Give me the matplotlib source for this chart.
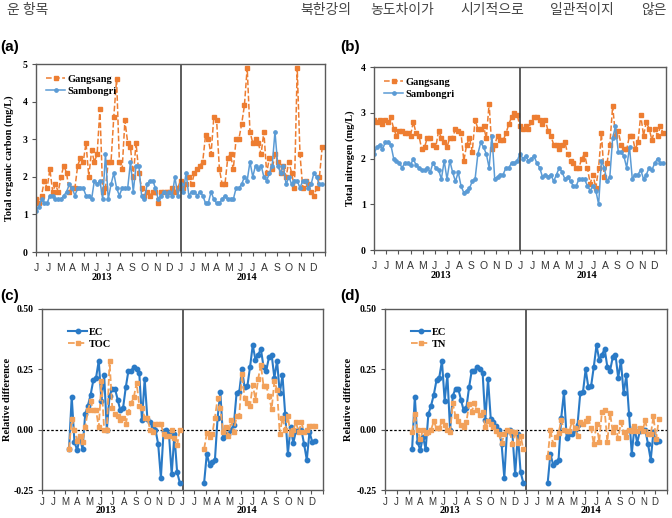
import numpy as np
import matplotlib.pyplot as plt

# weekly samples, week 0 = first week of January
toc_gang_13 = [1.4, 1.3, 1.5, 1.9, 1.7, 2.2, 1.6, 1.8, 1.6, 2.0, 2.3, 2.1, 1.6, 1.7, 1.7, 2.3, 2.5, 2.4,
               2.9, 2.0, 2.7, 2.4, 2.6, 3.8, 1.6, 1.7, 2.4, 2.4, 3.6, 4.6, 2.4, 2.2, 3.5, 2.9, 2.8, 2.0,
               2.9, 2.1, 1.7, 1.5, 1.6, 1.5, 1.6, 1.6, 1.3, 1.6, 1.6, 1.6, 1.6, 1.7, 1.6, 1.7]
toc_samb_13 = [1.1, 1.2, 1.4, 1.3, 1.3, 1.5, 1.5, 1.4, 1.4, 1.4, 1.5, 1.6, 1.8, 1.7, 1.5, 1.7, 1.7, 1.7,
               1.5, 1.5, 1.4, 1.9, 1.8, 1.9, 1.4, 2.6, 1.4, 1.8, 2.1, 1.7, 1.5, 1.7, 1.7, 1.7, 2.4, 1.6,
               2.3, 2.3, 1.5, 1.4, 1.8, 1.9, 1.9, 1.7, 1.4, 1.5, 1.6, 1.5, 1.6, 1.5, 2.0, 1.5]
toc_gang_14 = [1.9, 1.7, 1.8, 2.0, 1.8, 2.1, 2.2, 2.3, 2.4, 3.1, 3.0, 2.6, 3.6, 3.5, 2.2, 1.8, 1.8, 2.5,
               2.6, 2.2, 3.0, 3.0, 3.4, 3.9, 4.9, 3.2, 2.9, 3.0, 2.9, 2.6, 3.2, 2.1, 2.5, 2.2, 2.6, 2.4,
               2.1, 2.3, 2.0, 2.4, 2.1, 1.7, 4.9, 2.6, 1.7, 1.9, 1.8, 1.6, 1.5, 1.7, 2.0, 2.8]
toc_samb_14 = [1.8, 1.6, 2.1, 1.5, 1.6, 1.6, 1.5, 1.6, 1.5, 1.3, 1.3, 1.6, 1.4, 1.3, 1.3, 1.4, 1.5, 1.4,
               1.4, 1.4, 1.7, 1.7, 1.8, 2.0, 1.9, 2.4, 2.0, 2.3, 2.2, 2.3, 2.0, 1.9, 2.1, 2.3, 3.2, 2.3,
               2.1, 2.3, 1.8, 2.0, 1.8, 1.9, 1.9, 1.7, 1.9, 1.9, 1.7, 1.8, 2.1, 2.0, 1.8, 1.8]

tn_gang_13 = [2.85, 2.8, 2.85, 2.75, 2.85, 2.8, 2.9, 2.65, 2.5, 2.6, 2.6, 2.55, 2.55, 2.5, 2.8, 2.55, 2.5,
              2.2, 2.25, 2.45, 2.45, 2.3, 2.25, 2.6, 2.45, 2.35, 2.25, 2.45, 2.45, 2.65, 2.6, 2.55, 1.95,
              2.3, 2.45, 2.15, 2.85, 2.65, 2.65, 2.7, 2.45, 3.2, 2.2, 2.3, 2.5, 2.4, 2.4, 2.55, 2.75,
              2.9, 3.0, 2.95]
tn_samb_13 = [2.1, 2.25, 2.3, 2.2, 2.35, 2.35, 2.3, 2.0, 1.95, 1.9, 1.8, 1.9, 1.9, 1.85, 2.0, 1.85, 1.8,
              1.75, 1.75, 1.8, 1.7, 1.9, 1.8, 1.75, 1.55, 1.95, 1.55, 1.95, 1.7, 1.5, 1.7, 1.4, 1.25, 1.3,
              1.35, 1.5, 1.55, 2.1, 2.35, 2.25, 2.1, 1.8, 2.5, 1.55, 1.6, 1.65, 1.65, 1.8, 1.8, 1.9, 1.9,
              1.95]
tn_gang_14 = [2.7, 2.65, 2.7, 2.65, 2.8, 2.9, 2.9, 2.85, 2.75, 2.85, 2.6, 2.5, 2.3, 2.3, 2.2, 2.3, 2.35,
              2.1, 1.95, 1.9, 1.8, 1.8, 2.0, 2.1, 1.8, 1.45, 1.65, 1.35, 1.8, 2.55, 1.6, 1.9, 2.3, 3.15,
              2.5, 2.6, 2.3, 2.2, 2.2, 2.5, 2.5, 2.2, 2.35, 2.95, 2.5, 2.8, 2.65, 2.4, 2.65, 2.5, 2.7, 2.55]
tn_samb_14 = [2.1, 2.0, 2.05, 1.95, 2.0, 2.05, 1.9, 1.8, 1.6, 1.65, 1.6, 1.65, 1.5, 1.65, 1.8, 1.7, 1.55,
              1.6, 1.5, 1.4, 1.4, 1.55, 1.55, 1.55, 1.4, 1.3, 1.4, 1.3, 1.0, 1.95, 1.8, 1.5, 1.6, 2.45,
              2.7, 2.15, 2.15, 2.05, 1.8, 2.25, 1.55, 1.65, 1.65, 1.75, 1.55, 1.65, 1.8, 1.75, 1.9, 2.0,
              1.9, 1.9]

# relative differences, 2013 from week 10, 2014 from week 8
rd_start_13 = 10
rd_start_14 = 8
ec_13 = [-0.08, 0.137, -0.05, -0.085, -0.03, -0.08, 0.065, 0.1, 0.145, 0.205, 0.215, 0.285, 0.12, 0.225,
         0.0, 0.14, 0.17, 0.17, 0.125, 0.08, 0.09, 0.175, 0.245, 0.245, 0.26, 0.25, 0.235, 0.04, 0.21,
         0.045, 0.03, 0.015, 0.0, -0.06, -0.2, -0.005, 0.0, -0.02, -0.185, -0.02, -0.175, -0.22]
ec_14 = [-0.22, -0.1, -0.145, -0.135, -0.125, 0.05, 0.155, -0.035, -0.02, -0.02, 0.0, 0.02, 0.15, 0.155,
         0.25, 0.175, 0.18, 0.26, 0.35, 0.29, 0.31, 0.335, 0.26, 0.245, 0.3, 0.31, 0.215, 0.285, 0.15,
         0.225, 0.065, -0.1, 0.01, -0.055, -0.005, 0.0, 0.0, -0.06, -0.125, -0.01, -0.05, -0.045]
rd_toc_13 = [-0.08, 0.045, 0.0, -0.045, -0.025, -0.05, 0.01, 0.08, 0.12, 0.08, 0.08, 0.01, 0.2, 0.0, 0.0,
             0.285, 0.09, 0.065, 0.055, 0.04, 0.05, 0.025, 0.075, 0.11, 0.135, 0.195, 0.1, 0.09, 0.05,
             0.05, 0.0, -0.01, 0.025, 0.025, 0.025, -0.02, -0.025, -0.025, 0.0, -0.035, -0.065, 0.0]
rd_toc_14 = [-0.08, -0.015, -0.03, -0.02, 0.05, 0.13, 0.09, -0.01, 0.01, -0.025, 0.04, -0.01, 0.055, 0.055,
             0.23, 0.13, 0.11, 0.1, 0.185, 0.125, 0.21, 0.27, 0.18, 0.18, 0.14, 0.085, 0.2, 0.165, -0.02,
             0.05, 0.0, 0.055, -0.02, 0.0, 0.03, -0.01, 0.03, -0.01, 0.0, 0.015, 0.015, 0.015]
rd_tn_13 = [-0.01, 0.065, 0.0, -0.04, 0.0, -0.015, -0.01, 0.0, 0.035, 0.005, 0.005, 0.035, 0.02, 0.0,
            -0.01, 0.11, 0.055, 0.035, 0.02, 0.01, 0.03, 0.105, 0.075, 0.11, 0.08, 0.06, 0.075, 0.01,
            0.035, 0.025, 0.01, -0.005, -0.02, -0.055, -0.02, 0.0, -0.005, -0.06, -0.01, -0.055, -0.025,
            -0.08]
rd_tn_14 = [-0.115, 0.0, -0.06, -0.03, -0.015, 0.04, 0.0, -0.005, -0.005, 0.035, 0.005, -0.025, 0.03, 0.025,
            0.035, 0.05, 0.005, -0.06, 0.025, -0.05, 0.075, 0.08, -0.05, 0.07, -0.01, 0.01, -0.035, 0.03,
            -0.01, -0.03, 0.0, -0.005, 0.015, -0.005, 0.005, -0.005, 0.04, -0.02, -0.02, 0.055, -0.04,
            0.045]

months = ['J', 'J', 'M', 'A', 'M', 'J', 'J', 'A', 'S', 'O', 'N', 'D']
years = ['2013', '2014']
header_words = ['북한강의', '농도차이가', '시기적으로', '일관적이지', '않은']

serif = 'Liberation Serif'
ORANGE = '#ED7D31'
BLUE = '#5B9BD5'
EC_BLUE = '#2A7AC6'
LT_ORANGE = '#F2A15A'


def xpos(start, vals, year):
    # week index -> month position on the two-year axis
    return 12 * year + (start + np.arange(len(vals))) * 12 / 52.0


def style(ax, ylim, yticks, ylabs, ylabel, ylx, xpad, yr_y, mfs=7.5):
    ax.set_xlim(0, 24)
    ax.set_ylim(ylim)
    ax.set_xticks(np.arange(25))
    ax.set_xticklabels(months * 2 + [''], fontsize=mfs, family='Liberation Sans', color='#333333')
    ax.tick_params(axis='x', direction='out', length=3, width=0.8, pad=xpad, color='#555555')
    ax.set_yticks(yticks)
    ax.set_yticklabels(ylabs, fontsize=7, family=serif, fontweight='bold')
    ax.tick_params(axis='y', direction='out', length=3, width=0.8, pad=3, color='#555555')
    for s in ax.spines.values():
        s.set_color('#5a5a5a')
        s.set_linewidth(1.0)
    ax.axvline(12, color='#404040', lw=1.2)
    ax.set_ylabel(ylabel, family=serif, fontweight='bold', fontsize=7.5)
    ax.yaxis.set_label_coords(ylx, 0.5)
    for i, yr in enumerate(years):
        ax.text(5.5 + 12 * i, yr_y, yr, transform=ax.get_xaxis_transform(), ha='center', va='center',
                family=serif, fontweight='bold', fontsize=7.5)


fig = plt.figure(figsize=(6.72, 5.18), dpi=100)

fig.text(7 / 672, 1 - 10 / 518, '운 항목', family='Noto Sans CJK KR', fontsize=10, color='#444444', va='center')
for word, wx in zip(header_words, [300, 370, 460, 550, 641]):
    fig.text(wx / 672, 1 - 10 / 518, word, family='Noto Sans CJK KR', fontsize=10, color='#444444',
             va='center')

axa = fig.add_axes([36 / 672, 266 / 518, 289 / 672, 188 / 518])
axb = fig.add_axes([374 / 672, 268 / 518, 292 / 672, 183 / 518])
axc = fig.add_axes([42 / 672, 28 / 518, 281 / 672, 181 / 518])
axd = fig.add_axes([385 / 672, 28 / 518, 282 / 672, 181 / 518])

for lab, xy in zip(['(a)', '(b)', '(c)', '(d)'], [(0, 47), (340, 47), (0, 296), (340, 296)]):
    fig.text(xy[0] / 672, 1 - xy[1] / 518, lab, fontsize=11, fontweight='bold', family='Liberation Sans',
             va='center')

# (a) TOC, (b) TN: one continuous line over both years
for ax, g13, g14, s13, s14 in [(axa, toc_gang_13, toc_gang_14, toc_samb_13, toc_samb_14),
                               (axb, tn_gang_13, tn_gang_14, tn_samb_13, tn_samb_14)]:
    x = np.concatenate([xpos(0, g13, 0), xpos(0, g14, 1)])
    ax.plot(x, g13 + g14, ls='--', lw=1.1, color=ORANGE, marker='s', ms=2.8, label='Gangsang')
    x = np.concatenate([xpos(0, s13, 0), xpos(0, s14, 1)])
    ax.plot(x, s13 + s14, ls='-', lw=1.1, color=BLUE, marker='o', ms=2.4, label='Sambongri')

style(axa, (0, 5), np.arange(0, 6), [str(i) for i in range(6)], 'Total organic carbon (mg/L)',
      -0.075, 5, -0.135)
style(axb, (0, 4), np.arange(0, 5), [str(i) for i in range(5)], 'Total nitrogen (mg/L)',
      -0.065, 5, -0.14)

# (c) EC vs TOC, (d) EC vs TN: each year drawn separately
for ax, v13, v14, name, ylx in [(axc, rd_toc_13, rd_toc_14, 'TOC', -0.105),
                                (axd, rd_tn_13, rd_tn_14, 'TN', -0.115)]:
    ax.axhline(0, color='black', lw=0.9, ls=(0, (2, 1.5)))
    ax.plot(xpos(rd_start_13, ec_13, 0), ec_13, ls='-', lw=1.5, color=EC_BLUE, marker='o', ms=3.2,
            label='EC', zorder=3)
    ax.plot(xpos(rd_start_14, ec_14, 1), ec_14, ls='-', lw=1.5, color=EC_BLUE, marker='o', ms=3.2,
            zorder=3)
    ax.plot(xpos(rd_start_13, v13, 0), v13, ls='--', lw=1.3, color=LT_ORANGE, marker='s', ms=3.2,
            label=name, zorder=4)
    ax.plot(xpos(rd_start_14, v14, 1), v14, ls='--', lw=1.3, color=LT_ORANGE, marker='s', ms=3.2,
            zorder=4)
    style(ax, (-0.25, 0.5), [-0.25, 0, 0.25, 0.5], ['-0.25', '0.00', '0.25', '0.50'],
          'Relative difference', ylx, 2, -0.115, mfs=7)

leg_font = {'family': serif, 'weight': 'bold', 'size': 7.5}
for ax in [axa, axb]:
    ax.legend(loc='upper left', bbox_to_anchor=(0.0, 1.0), frameon=False, prop=leg_font, handlelength=1.8,
              handletextpad=0.2, labelspacing=0.25, borderaxespad=0.6)
for ax in [axc, axd]:
    ax.legend(loc='upper left', bbox_to_anchor=(0.06, 0.95), frameon=False, prop=leg_font, handlelength=1.8,
              handletextpad=0.2, labelspacing=0.25)

fig.savefig('out.png', dpi=100)
